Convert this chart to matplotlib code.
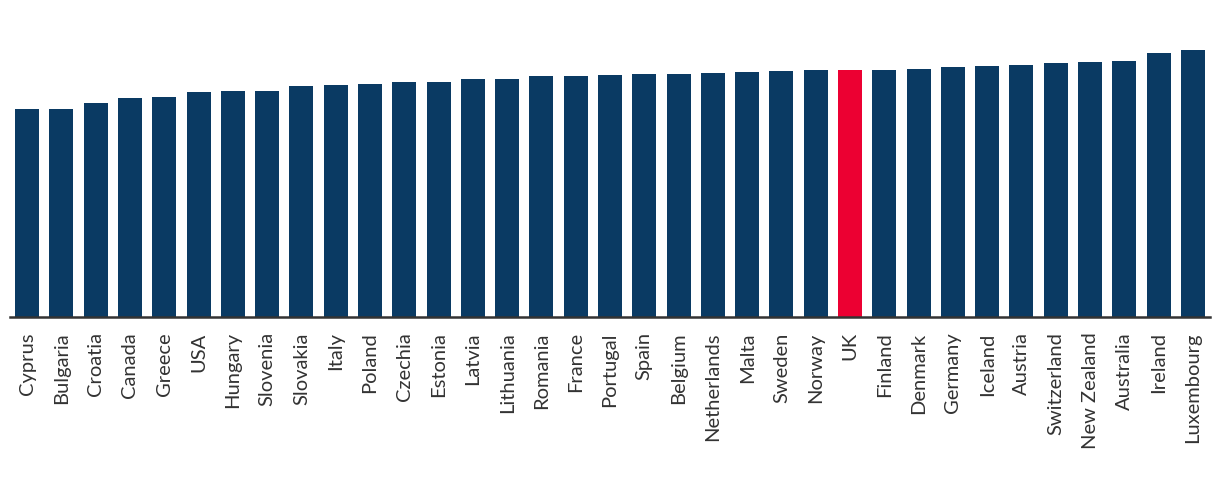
import matplotlib
matplotlib.use("Agg")
import matplotlib.pyplot as plt

countries = ["Cyprus", "Bulgaria", "Croatia", "Canada", "Greece", "USA", "Hungary",
             "Slovenia", "Slovakia", "Italy", "Poland", "Czechia", "Estonia", "Latvia",
             "Lithuania", "Romania", "France", "Portugal", "Spain", "Belgium",
             "Netherlands", "Malta", "Sweden", "Norway", "UK", "Finland", "Denmark",
             "Germany", "Iceland", "Austria", "Switzerland", "New Zealand", "Australia",
             "Ireland", "Luxembourg"]
values = [208, 208, 214.5, 219, 220, 225, 226, 226, 231, 232, 233, 235, 235, 238,
          238, 241, 241, 242, 243, 243, 244, 245, 246, 247, 247, 247, 248, 250,
          251, 252, 254, 255, 256, 264, 267]
highlight = "UK"

navy = "#0A3A63"
red = "#EC0032"
colors = [red if c == highlight else navy for c in countries]

fig = plt.figure(figsize=(12.2, 4.96), dpi=100)
ax = fig.add_axes([10 / 1220, 1 - 317 / 496, 1200 / 1220, 317 / 496])
x = list(range(len(countries)))
ax.bar(x, values, width=0.70, color=colors, zorder=2)
ax.set_xlim(-0.5, len(countries) - 0.5)
ax.set_ylim(0, 317)

for s in ["top", "right", "left"]:
    ax.spines[s].set_visible(False)
ax.spines["bottom"].set_color("#333333")
ax.spines["bottom"].set_linewidth(1.8)
ax.spines["bottom"].set_zorder(3)
ax.set_yticks([])
ax.set_xticks(x)
ax.set_xticklabels(countries, rotation=90, fontsize=14.5, color="#333333",
                   family=["Lato", "DejaVu Sans"])
ax.tick_params(axis="x", length=0, pad=11)

fig.savefig("out.png", dpi=100, facecolor="white")
